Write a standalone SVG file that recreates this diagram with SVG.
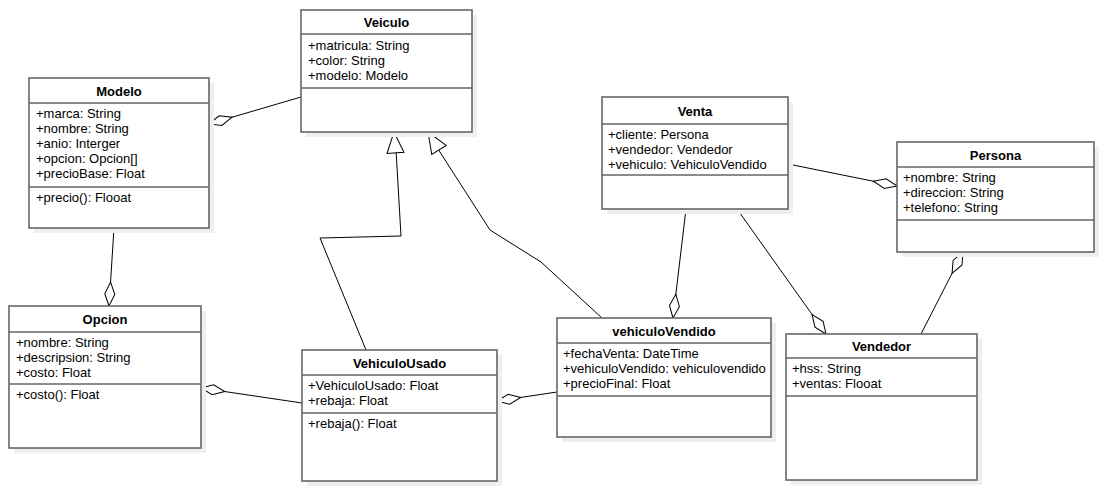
<svg xmlns="http://www.w3.org/2000/svg" xmlns:xlink="http://www.w3.org/1999/xlink" width="1107" height="491" viewBox="0 0 1107 491">
<defs>
<style>
.shadow{fill:#efefef;stroke:none}
.box{fill:#fff;stroke:#666;stroke-width:1.6}
.sep{stroke:#666;stroke-width:1.6}
.title{font-family:"Liberation Sans",Arial,sans-serif;font-size:13px;font-weight:bold;fill:#000;text-anchor:middle}
.txt{font-family:"Liberation Sans",Arial,sans-serif;font-size:13px;fill:#000}
.ln{fill:none;stroke:#000;stroke-width:1}
</style>
<polygon id="dia" points="0,0 12,-5 24,0 12,5" fill="#fff" stroke="#000" stroke-width="1"/>
<polygon id="tri" points="0,0 21,-8.5 21,8.5" fill="#fff" stroke="#000" stroke-width="1"/>
</defs>
<rect width="1107" height="491" fill="#fff"/>

<g id="connectors">
<line class="ln" x1="209" y1="124" x2="301" y2="97"/>
<use xlink:href="#dia" href="#dia" transform="translate(209,124) rotate(-16.4)"/>
<line class="ln" x1="109" y1="306" x2="114" y2="228"/>
<use xlink:href="#dia" href="#dia" transform="translate(109,306) rotate(-86.3)"/>
<line class="ln" x1="201" y1="388" x2="302" y2="403"/>
<use xlink:href="#dia" href="#dia" transform="translate(201,388) rotate(8.4)"/>
<line class="ln" x1="497" y1="401" x2="557" y2="392"/>
<use xlink:href="#dia" href="#dia" transform="translate(497,401) rotate(-8.5)"/>
<line class="ln" x1="673" y1="318" x2="686" y2="209"/>
<use xlink:href="#dia" href="#dia" transform="translate(673,318) rotate(-83.2)"/>
<line class="ln" x1="826" y1="334" x2="737" y2="209"/>
<use xlink:href="#dia" href="#dia" transform="translate(826,334) rotate(-125.5)"/>
<line class="ln" x1="897" y1="186" x2="788" y2="164"/>
<use xlink:href="#dia" href="#dia" transform="translate(897,186) rotate(-168.6)"/>
<line class="ln" x1="963" y1="252" x2="921" y2="334"/>
<use xlink:href="#dia" href="#dia" transform="translate(963,252) rotate(117.1)"/>
<polyline class="ln" points="366,350 320,238 401,236 396,150"/>
<use xlink:href="#tri" href="#tri" transform="translate(394,132) rotate(86)"/>
<polyline class="ln" points="602,318 541,262 490,230 438,149"/>
<use xlink:href="#tri" href="#tri" transform="translate(428,132) rotate(58.5)"/>
</g>

<g id="Veiculo">
<rect class="shadow" x="306" y="15" width="171" height="122"/>
<rect class="box" x="301" y="10" width="171" height="122"/>
<line class="sep" x1="301" y1="34" x2="472" y2="34"/>
<line class="sep" x1="301" y1="88" x2="472" y2="88"/>
<text class="title" x="386.5" y="27">Veiculo</text>
<text class="txt" x="308" y="50">+matricula: String</text>
<text class="txt" x="308" y="65">+color: String</text>
<text class="txt" x="308" y="80">+modelo: Modelo</text>
</g>

<g id="Modelo">
<rect class="shadow" x="34" y="83" width="180" height="150"/>
<rect class="box" x="29" y="78" width="180" height="150"/>
<line class="sep" x1="29" y1="103" x2="209" y2="103"/>
<line class="sep" x1="29" y1="187" x2="209" y2="187"/>
<text class="title" x="119" y="95.5">Modelo</text>
<text class="txt" x="36" y="118">+marca: String</text>
<text class="txt" x="36" y="133">+nombre: String</text>
<text class="txt" x="36" y="148">+anio: Interger</text>
<text class="txt" x="36" y="163">+opcion: Opcion[]</text>
<text class="txt" x="36" y="178">+precioBase: Float</text>
<text class="txt" x="36" y="202">+precio(): Flooat</text>
</g>

<g id="Opcion">
<rect class="shadow" x="14" y="311" width="192" height="142"/>
<rect class="box" x="9" y="306" width="192" height="142"/>
<line class="sep" x1="9" y1="332" x2="201" y2="332"/>
<line class="sep" x1="9" y1="384" x2="201" y2="384"/>
<text class="title" x="105" y="323.5">Opcion</text>
<text class="txt" x="16" y="347">+nombre: String</text>
<text class="txt" x="16" y="362">+descripsion: String</text>
<text class="txt" x="16" y="377">+costo: Float</text>
<text class="txt" x="16" y="399">+costo(): Float</text>
</g>

<g id="VehiculoUsado">
<rect class="shadow" x="307" y="355" width="195" height="131"/>
<rect class="box" x="302" y="350" width="195" height="131"/>
<line class="sep" x1="302" y1="375" x2="497" y2="375"/>
<line class="sep" x1="302" y1="413" x2="497" y2="413"/>
<text class="title" x="399.5" y="367.5">VehiculoUsado</text>
<text class="txt" x="308" y="390">+VehiculoUsado: Float</text>
<text class="txt" x="308" y="405">+rebaja: Float</text>
<text class="txt" x="308" y="428">+rebaja(): Float</text>
</g>

<g id="vehiculoVendido">
<rect class="shadow" x="562" y="323" width="214" height="119"/>
<rect class="box" x="557" y="318" width="214" height="119"/>
<line class="sep" x1="557" y1="343" x2="771" y2="343"/>
<line class="sep" x1="557" y1="396" x2="771" y2="396"/>
<text class="title" x="664" y="335.5">vehiculoVendido</text>
<text class="txt" x="563" y="358">+fechaVenta: DateTime</text>
<text class="txt" x="563" y="373">+vehiculoVendido: vehiculovendido</text>
<text class="txt" x="563" y="388">+precioFinal: Float</text>
</g>

<g id="Venta">
<rect class="shadow" x="607" y="102" width="186" height="112"/>
<rect class="box" x="602" y="97" width="186" height="112"/>
<line class="sep" x1="602" y1="124" x2="788" y2="124"/>
<line class="sep" x1="602" y1="175" x2="788" y2="175"/>
<text class="title" x="695" y="115.5">Venta</text>
<text class="txt" x="608" y="139">+cliente: Persona</text>
<text class="txt" x="608" y="154">+vendedor: Vendedor</text>
<text class="txt" x="608" y="169">+vehiculo: VehiculoVendido</text>
</g>

<g id="Persona">
<rect class="shadow" x="902" y="147" width="197" height="110"/>
<rect class="box" x="897" y="142" width="197" height="110"/>
<line class="sep" x1="897" y1="167" x2="1094" y2="167"/>
<line class="sep" x1="897" y1="220" x2="1094" y2="220"/>
<text class="title" x="995.5" y="159.5">Persona</text>
<text class="txt" x="903" y="182">+nombre: String</text>
<text class="txt" x="903" y="197">+direccion: String</text>
<text class="txt" x="903" y="212">+telefono: String</text>
</g>

<g id="Vendedor">
<rect class="shadow" x="791" y="339" width="191" height="146"/>
<rect class="box" x="786" y="334" width="191" height="146"/>
<line class="sep" x1="786" y1="358" x2="977" y2="358"/>
<line class="sep" x1="786" y1="396" x2="977" y2="396"/>
<text class="title" x="881.5" y="351">Vendedor</text>
<text class="txt" x="792" y="373">+hss: String</text>
<text class="txt" x="792" y="388">+ventas: Flooat</text>
</g>
</svg>
